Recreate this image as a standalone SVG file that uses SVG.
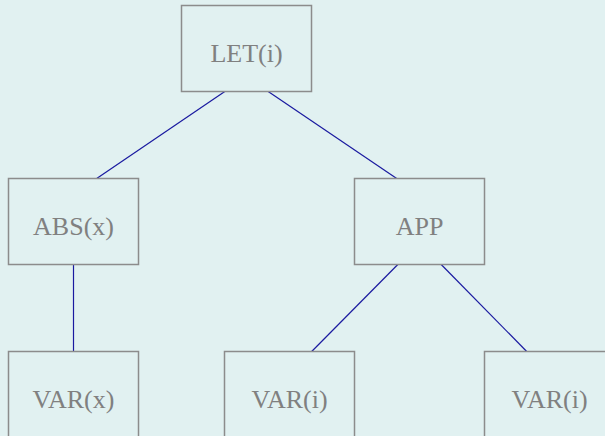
<svg xmlns="http://www.w3.org/2000/svg" width="605" height="436" viewBox="0 0 605 436">
  <style>
    .box { fill: #e1f1f1; stroke: #8c8c8c; stroke-width: 1.5; }
    .lbl { font-family: "Liberation Serif", "Times New Roman", serif; font-size: 26px; fill: #808080; text-anchor: middle; }
    .edge { stroke: #1a1aa0; stroke-width: 1.2; fill: none; }
  </style>
  <rect x="0" y="0" width="605" height="436" fill="#e1f1f1"/>
  <g id="connectors">
    <line class="edge" x1="224.8" y1="91.5" x2="96.7" y2="178.5"/>
    <line class="edge" x1="268.2" y1="91.5" x2="396.7" y2="178.5"/>
    <line class="edge" x1="73.5" y1="264.5" x2="73.5" y2="351.5"/>
    <line class="edge" x1="397.8" y1="264.5" x2="311.7" y2="351.5"/>
    <line class="edge" x1="441.2" y1="264.5" x2="526.7" y2="351.5"/>
  </g>
  <g id="let">
    <rect class="box" x="181.5" y="5.5" width="130" height="86"/>
    <text class="lbl" x="246.5" y="61.5">LET(i)</text>
  </g>
  <g id="abs">
    <rect class="box" x="8.5" y="178.5" width="130" height="86"/>
    <text class="lbl" x="73.5" y="234.5">ABS(x)</text>
  </g>
  <g id="app">
    <rect class="box" x="354.5" y="178.5" width="130" height="86"/>
    <text class="lbl" x="419.5" y="234.5">APP</text>
  </g>
  <g id="var-x">
    <rect class="box" x="8.5" y="351.5" width="130" height="86"/>
    <text class="lbl" x="73.5" y="407.5">VAR(x)</text>
  </g>
  <g id="var-i-1">
    <rect class="box" x="224.5" y="351.5" width="130" height="86"/>
    <text class="lbl" x="289.5" y="407.5">VAR(i)</text>
  </g>
  <g id="var-i-2">
    <rect class="box" x="484.5" y="351.5" width="130" height="86"/>
    <text class="lbl" x="549.5" y="407.5">VAR(i)</text>
  </g>
</svg>
